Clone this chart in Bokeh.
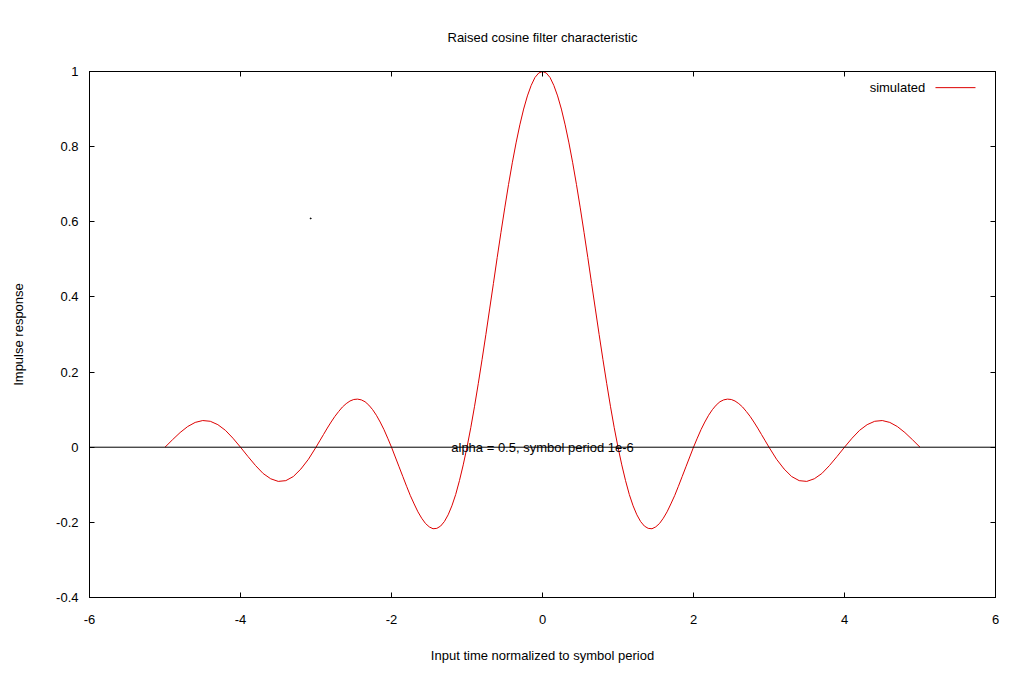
from bokeh.plotting import figure
from bokeh.models import LinearAxis, FixedTicker, Span, Label, Arrow, Range1d
from bokeh.embed import file_html
from bokeh.resources import INLINE

# ---- data ----
time_norm = [-5.0, -4.9, -4.8, -4.7, -4.6, -4.5, -4.4, -4.3, -4.2, -4.1,
             -4.0, -3.9, -3.8, -3.7, -3.6, -3.5, -3.4, -3.3, -3.2, -3.1,
             -3.00, -2.95, -2.90, -2.85, -2.80, -2.75, -2.70, -2.65, -2.60, -2.55,
             -2.50, -2.45, -2.40, -2.35, -2.30, -2.25, -2.20, -2.15, -2.10, -2.05,
             -2.00, -1.95, -1.90, -1.85, -1.80, -1.75, -1.70, -1.65, -1.60, -1.55,
             -1.50, -1.45, -1.40, -1.35, -1.30, -1.25, -1.20, -1.15, -1.10, -1.05,
             -1.00, -0.95, -0.90, -0.85, -0.80, -0.75, -0.70, -0.65, -0.60, -0.55,
             -0.50, -0.45, -0.40, -0.35, -0.30, -0.25, -0.20, -0.15, -0.10, -0.05,
             0.00,
             0.05, 0.10, 0.15, 0.20, 0.25, 0.30, 0.35, 0.40, 0.45, 0.50,
             0.55, 0.60, 0.65, 0.70, 0.75, 0.80, 0.85, 0.90, 0.95, 1.00,
             1.05, 1.10, 1.15, 1.20, 1.25, 1.30, 1.35, 1.40, 1.45, 1.50,
             1.55, 1.60, 1.65, 1.70, 1.75, 1.80, 1.85, 1.90, 1.95, 2.00,
             2.05, 2.10, 2.15, 2.20, 2.25, 2.30, 2.35, 2.40, 2.45, 2.50,
             2.55, 2.60, 2.65, 2.70, 2.75, 2.80, 2.85, 2.90, 2.95, 3.00,
             3.1, 3.2, 3.3, 3.4, 3.5, 3.6, 3.7, 3.8, 3.9, 4.0,
             4.1, 4.2, 4.3, 4.4, 4.5, 4.6, 4.7, 4.8, 4.9, 5.0]
simulated = [0.000, 0.020, 0.039, 0.055, 0.066, 0.071, 0.069, 0.060, 0.045, 0.024,
             0.000, -0.025, -0.049, -0.070, -0.084, -0.091, -0.089, -0.078, -0.058, -0.032,
             0.000, 0.017, 0.034, 0.051, 0.067, 0.082, 0.095, 0.107, 0.116, 0.123,
             0.127, 0.128, 0.126, 0.121, 0.112, 0.100, 0.085, 0.067, 0.047, 0.024,
             0.000, -0.026, -0.052, -0.078, -0.104, -0.129, -0.151, -0.172, -0.189, -0.203,
             -0.212, -0.217, -0.216, -0.210, -0.198, -0.180, -0.156, -0.126, -0.089, -0.047,
             0.000, 0.052, 0.109, 0.170, 0.234, 0.300, 0.368, 0.436, 0.505, 0.572,
             0.637, 0.699, 0.757, 0.810, 0.858, 0.900, 0.935, 0.963, 0.984, 0.996,
             1.000,
             0.996, 0.984, 0.963, 0.935, 0.900, 0.858, 0.810, 0.757, 0.699, 0.637,
             0.572, 0.505, 0.436, 0.368, 0.300, 0.234, 0.170, 0.109, 0.052, 0.000,
             -0.047, -0.089, -0.126, -0.156, -0.180, -0.198, -0.210, -0.216, -0.217, -0.212,
             -0.203, -0.189, -0.172, -0.151, -0.129, -0.104, -0.078, -0.052, -0.026, 0.000,
             0.024, 0.047, 0.067, 0.085, 0.100, 0.112, 0.121, 0.126, 0.128, 0.127,
             0.123, 0.116, 0.107, 0.095, 0.082, 0.067, 0.051, 0.034, 0.017, 0.000,
             -0.032, -0.058, -0.078, -0.089, -0.091, -0.084, -0.070, -0.049, -0.025, 0.000,
             0.024, 0.045, 0.060, 0.069, 0.071, 0.066, 0.055, 0.039, 0.020, 0.000]
stray_x = [-3.07]
stray_y = [0.609]

x_ticks = [-6, -4, -2, 0, 2, 4, 6]
x_tick_labels = ["-6", "-4", "-2", "0", "2", "4", "6"]
y_ticks = [-0.4, -0.2, 0, 0.2, 0.4, 0.6, 0.8, 1]
y_tick_labels = ["-0.4", "-0.2", "0", "0.2", "0.4", "0.6", "0.8", "1"]

title_text = "Raised cosine filter characteristic"
x_label = "Input time normalized to symbol period"
y_label = "Impulse response"
note_text = "alpha = 0.5, symbol period 1e-6"
legend_text = "simulated"

FONT = "Liberation Sans"
FS = "13px"
RED = "#dd0000"

p = figure(width=1016, height=665, output_backend="svg", toolbar_location=None,
           x_range=Range1d(-6, 6), y_range=Range1d(-0.4, 1),
           min_border_left=89, min_border_right=21, min_border_top=71, min_border_bottom=67,
           background_fill_color="white", border_fill_color="white")

p.title.text = title_text
p.title.align = "center"
p.title.text_font = FONT
p.title.text_font_size = FS
p.title.text_font_style = "normal"
p.title.text_color = "black"
p.title.standoff = 53

p.xgrid.visible = False
p.ygrid.visible = False
p.outline_line_color = "black"
p.outline_line_width = 1

# main axes
xa = p.xaxis[0]
xa.ticker = FixedTicker(ticks=x_ticks)
xa.major_label_overrides = {t: s for t, s in zip(x_ticks, x_tick_labels)}
ya = p.yaxis[0]
ya.ticker = FixedTicker(ticks=y_ticks)
ya.major_label_overrides = {t: s for t, s in zip(y_ticks, y_tick_labels)}
for ax in (xa, ya):
    ax.major_tick_in = 5
    ax.major_tick_out = 0
    ax.minor_tick_line_color = None
    ax.axis_line_color = "black"
    ax.major_tick_line_color = "black"
    ax.major_label_text_font = FONT
    ax.major_label_text_font_size = FS
    ax.major_label_text_color = "black"
    ax.axis_label_text_font = FONT
    ax.axis_label_text_font_size = FS
    ax.axis_label_text_font_style = "normal"
    ax.axis_label_text_color = "black"
xa.axis_label = x_label
xa.major_label_standoff = 17
xa.axis_label_standoff = 21
ya.axis_label = y_label
ya.major_label_standoff = 11
ya.axis_label_standoff = 27

# mirrored ticks on top and right (no labels)
top = LinearAxis(ticker=FixedTicker(ticks=x_ticks), major_tick_in=5, major_tick_out=0,
                 minor_tick_line_color=None, major_label_standoff=0, axis_line_color="black",
                 major_label_overrides={t: "" for t in x_ticks})
right = LinearAxis(ticker=FixedTicker(ticks=y_ticks), major_tick_in=5, major_tick_out=0,
                   minor_tick_line_color=None, major_label_standoff=0, axis_line_color="black",
                   major_label_overrides={t: "" for t in y_ticks})
p.add_layout(top, "above")
p.add_layout(right, "right")

# zero axis
p.add_layout(Span(location=0, dimension="width", line_color="black", line_width=1))

# curve
p.line(time_norm, simulated, line_color=RED, line_width=1)
p.scatter(stray_x, stray_y, size=1, color="black")

# annotation text
p.add_layout(Label(x=0, y=0, text=note_text, text_align="center", text_baseline="middle",
                   text_font=FONT, text_font_size=FS, text_color="black"))

# gnuplot-style key (text then sample line)
p.add_layout(Label(x=5.07, y=0.957, text=legend_text, text_align="right", text_baseline="middle",
                   text_font=FONT, text_font_size=FS, text_color="black"))
p.add_layout(Arrow(start=None, end=None, x_start=5.205, y_start=0.957, x_end=5.735, y_end=0.957,
                   line_color=RED, line_width=1))

open("out.html", "w").write(file_html(p, INLINE))
